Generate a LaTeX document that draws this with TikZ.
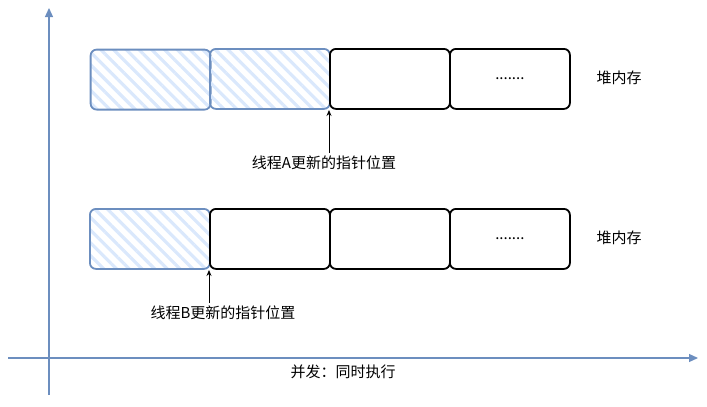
\documentclass[tikz,border=0pt]{standalone}
\usepackage{fontspec}
\setmainfont{Noto Sans CJK SC}
\usetikzlibrary{patterns.meta,arrows.meta}
\definecolor{axisblue}{HTML}{6C8EBF}
\definecolor{hatchblue}{HTML}{DAE8FC}
\tikzset{
  cell/.style={draw=black, line width=1.8pt, rounded corners=6pt, minimum width=120pt, minimum height=60pt, inner sep=0pt, anchor=north west},
  used/.style={draw=axisblue, line width=1.8pt, rounded corners=6pt, minimum width=120pt, minimum height=60pt, inner sep=0pt, anchor=north west,
    pattern={Lines[angle=-45,distance=9pt,line width=3.2pt]}, pattern color=hatchblue},
  axis/.style={draw=axisblue, line width=1.2pt, -{Triangle[length=9pt,width=8pt]}},
  ptr/.style={draw=black, line width=0.8pt, -{Stealth[length=6pt,width=5pt]}},
  lbl/.style={font=\fontsize{15}{17}\selectfont, inner sep=0pt},
}
\begin{document}
\begin{tikzpicture}[x=1pt,y=-1pt]
\useasboundingbox (0,0) rectangle (707,407);
% axes
\coordinate (ys) at (49,395);
\coordinate (ye) at (49,8);
\coordinate (xs) at (8,358);
\coordinate (xe) at (698,358);
\draw[axis] (ys) -- (ye);
\draw[axis] (xs) -- (xe);
% top row
\node[used] (a1) at (89,48) {};
\node[used] (a2) at (209,48) {};
\node[cell] (a3) at (329,48) {};
\node[cell] (a4) at (449,48) {};
\node[lbl] (ad) at (a4.center) {.......};
\node[lbl] (ah) at (619,78) {堆内存};
% bottom row
\node[used] (b1) at (89,208) {};
\node[cell] (b2) at (209,208) {};
\node[cell] (b3) at (329,208) {};
\node[cell] (b4) at (449,208) {};
\node[lbl] (bd) at (b4.center) {.......};
\node[lbl] (bh) at (619,238) {堆内存};
% pointers
\node[lbl] (pa) at (324,163) {线程A更新的指针位置};
\coordinate (pat) at (329,110);
\draw[ptr] (329,153) -- (pat);
\node[lbl] (pb) at (223,313) {线程B更新的指针位置};
\coordinate (pbt) at (209,270);
\draw[ptr] (209,303) -- (pbt);
% x label
\node[lbl] (xl) at (343,372) {并发：同时执行};
\end{tikzpicture}
\end{document}
